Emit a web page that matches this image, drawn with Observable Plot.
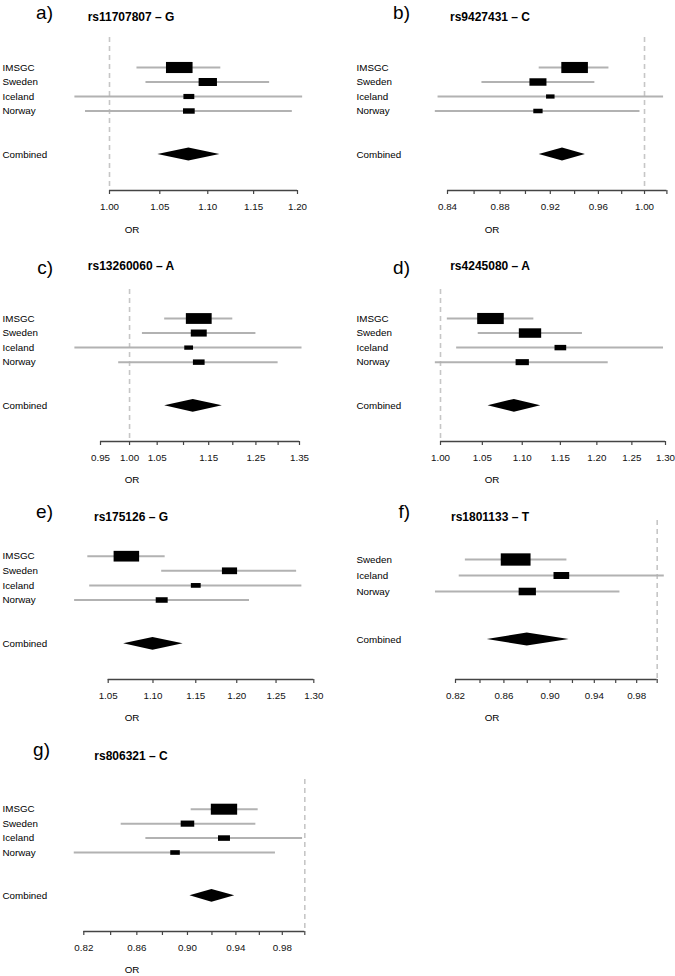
<!DOCTYPE html>
<html>
<head>
<meta charset="utf-8">
<script src="https://cdn.jsdelivr.net/npm/d3@7"></script>
<script src="https://cdn.jsdelivr.net/npm/@observablehq/plot@0.6"></script>
<style>
  body { margin: 0; background: #fff; }
  #page { position: relative; width: 675px; height: 976px; overflow: hidden;
          font-family: "Liberation Sans", Arial, Helvetica, sans-serif; color: #000; background: #fff; }
  .abs { position: absolute; line-height: 1; white-space: nowrap; }
  .letter { font-size: 19px; transform: translate(-100%, -50%); }
  .title { font-size: 12px; font-weight: bold; transform: translate(-50%, -50%); }
  .orlab { font-size: 9.8px; transform: translate(-50%, -50%); }
</style>
</head>
<body>
<div id="page"></div>
<script>
// ---------------- DATA ----------------
const letters = ["a)", "b)", "c)", "d)", "e)", "f)", "g)"];
const snps = ["rs11707807 – G", "rs9427431 – C", "rs13260060 – A", "rs4245080 – A",
              "rs175126 – G", "rs1801133 – T", "rs806321 – C"];
const studyNames = [
  ["IMSGC", "Sweden", "Iceland", "Norway"],
  ["IMSGC", "Sweden", "Iceland", "Norway"],
  ["IMSGC", "Sweden", "Iceland", "Norway"],
  ["IMSGC", "Sweden", "Iceland", "Norway"],
  ["IMSGC", "Sweden", "Iceland", "Norway"],
  ["Sweden", "Iceland", "Norway"],
  ["IMSGC", "Sweden", "Iceland", "Norway"]
];
const studyOR = [
  [1.070, 1.100, 1.080, 1.080],
  [0.940, 0.910, 0.920, 0.910],
  [1.130, 1.130, 1.110, 1.130],
  [1.060, 1.110, 1.150, 1.100],
  [1.070, 1.191, 1.150, 1.110],
  [0.870, 0.910, 0.880],
  [0.930, 0.900, 0.930, 0.890]
];
const studyLow = [
  [1.027, 1.036, 0.967, 0.977],
  [0.911, 0.866, 0.833, 0.831],
  [1.064, 1.023, 0.908, 0.981],
  [1.008, 1.045, 1.019, 0.994],
  [1.028, 1.110, 1.030, 1.014],
  [0.828, 0.823, 0.804],
  [0.903, 0.848, 0.867, 0.813]
];
const studyHigh = [
  [1.114, 1.168, 1.206, 1.194],
  [0.969, 0.957, 1.017, 0.996],
  [1.200, 1.250, 1.356, 1.300],
  [1.115, 1.180, 1.297, 1.216],
  [1.114, 1.277, 1.284, 1.216],
  [0.915, 1.007, 0.964],
  [0.959, 0.957, 0.998, 0.974]
];
// relative study weights (box sizes)
const studyWeight = [
  [1.00, 0.69, 0.41, 0.44],
  [1.00, 0.64, 0.32, 0.35],
  [0.97, 0.60, 0.33, 0.44],
  [1.00, 0.84, 0.44, 0.50],
  [0.96, 0.57, 0.37, 0.45],
  [1.12, 0.59, 0.65],
  [0.99, 0.51, 0.45, 0.36]
];
const combinedOR   = [1.080, 0.930, 1.119, 1.090, 1.100, 0.880, 0.920];
const combinedLow  = [1.048, 0.911, 1.064, 1.057, 1.067, 0.846, 0.902];
const combinedHigh = [1.113, 0.949, 1.178, 1.124, 1.135, 0.917, 0.939];
const axisTicks = [
  [1.00, 1.05, 1.10, 1.15, 1.20],
  [0.84, 0.86, 0.88, 0.90, 0.92, 0.94, 0.96, 0.98, 1.00, 1.02],
  [0.95, 1.00, 1.05, 1.10, 1.15, 1.20, 1.25, 1.30, 1.35],
  [1.00, 1.05, 1.10, 1.15, 1.20, 1.25, 1.30],
  [1.05, 1.10, 1.15, 1.20, 1.25, 1.30],
  [0.82, 0.84, 0.86, 0.88, 0.90, 0.92, 0.94, 0.96, 0.98, 1.00],
  [0.82, 0.84, 0.86, 0.88, 0.90, 0.92, 0.94, 0.96, 0.98, 1.00]
];
const axisLabels = [
  ["1.00", "1.05", "1.10", "1.15", "1.20"],
  ["0.84", "0.88", "0.92", "0.96", "1.00"],
  ["0.95", "1.00", "1.05", "1.15", "1.25", "1.35"],
  ["1.00", "1.05", "1.10", "1.15", "1.20", "1.25", "1.30"],
  ["1.05", "1.10", "1.15", "1.20", "1.25", "1.30"],
  ["0.82", "0.86", "0.90", "0.94", "0.98"],
  ["0.82", "0.86", "0.90", "0.94", "0.98"]
];
const combinedLabel = "Combined";
const axisTitle = "OR";

// ---------------- LAYOUT (page pixels) ----------------
const layout = [
  {left: 0,   top: 0,   w: 335, h: 240, x0px: 109,   x1px: 297,   row1: 67,    comb: 154,   axisY: 190, dashTop: 37,  labelX: 2,   titleX: 131, titleY: 16.7,  letterX: 53,  letterY: 11.8, orX: 132, orY: 230},
  {left: 335, top: 0,   w: 340, h: 240, x0px: 447,   x1px: 666.4, row1: 67,    comb: 154,   axisY: 190, dashTop: 37,  labelX: 356, titleX: 490, titleY: 16.7,  letterX: 410, letterY: 11.8, orX: 492, orY: 230},
  {left: 0,   top: 240, w: 335, h: 240, x0px: 100,   x1px: 299,   row1: 318,   comb: 405.3, axisY: 441, dashTop: 289, labelX: 2,   titleX: 131, titleY: 266,   letterX: 53,  letterY: 267,  orX: 132, orY: 480},
  {left: 335, top: 240, w: 340, h: 240, x0px: 440,   x1px: 665,   row1: 318,   comb: 405.3, axisY: 441, dashTop: 289, labelX: 356, titleX: 490, titleY: 266,   letterX: 410, letterY: 267,  orX: 492, orY: 480},
  {left: 0,   top: 480, w: 335, h: 250, x0px: 107.7, x1px: 313.3, row1: 555.7, comb: 643.3, axisY: 679, dashTop: 520, labelX: 2,   titleX: 131, titleY: 516.7, letterX: 53,  letterY: 511,  orX: 132, orY: 718},
  {left: 335, top: 480, w: 340, h: 250, x0px: 455,   x1px: 656.7, row1: 559,   comb: 639,   axisY: 679, dashTop: 520, labelX: 356, titleX: 490, titleY: 516.7, letterX: 410, letterY: 511,  orX: 492, orY: 718},
  {left: 0,   top: 730, w: 335, h: 246, x0px: 83.3,  x1px: 304.3, row1: 808.7, comb: 895.3, axisY: 931, dashTop: 779, labelX: 2,   titleX: 131, titleY: 756,   letterX: 50,  letterY: 749,  orX: 132, orY: 970}
];

// rectangular box symbol: half-width = r, half-height proportional
const boxSymbol = {
  draw(context, size) {
    const r = Math.sqrt(size / Math.PI);
    const hw = r, hh = 0.38 * r + 0.5;
    context.moveTo(-hw, -hh);
    context.lineTo(hw, -hh);
    context.lineTo(hw, hh);
    context.lineTo(-hw, hh);
    context.closePath();
  }
};

const page = document.getElementById("page");

function addText(cls, text, x, y) {
  const el = document.createElement("div");
  el.className = "abs " + cls;
  el.textContent = text;
  el.style.left = x + "px";
  el.style.top = y + "px";
  page.appendChild(el);
}

layout.forEach((L, i) => {
  const names = studyNames[i];
  const n = names.length;
  const rows = names.map((s, j) => ({
    study: s, idx: j + 1,
    or: studyOR[i][j], lo: studyLow[i][j], hi: studyHigh[i][j], w: studyWeight[i][j]
  }));
  const combIdx = n + 3;
  const spacing = (L.comb - L.row1) / (combIdx - 1);
  const axisRow = combIdx + (L.axisY - L.comb) / spacing;
  const ticks = axisTicks[i];
  const t0 = ticks[0], t1 = ticks[ticks.length - 1];
  const marginTop = L.dashTop - L.top;
  const marginBottom = L.top + L.h - L.axisY;
  const marginLeft = L.x0px - L.left;
  const marginRight = L.left + L.w - L.x1px;
  const dh = 6.4 / spacing;
  const diamond = [
    {x: combinedLow[i], y1: combIdx, y2: combIdx},
    {x: combinedOR[i], y1: combIdx - dh, y2: combIdx + dh},
    {x: combinedHigh[i], y1: combIdx, y2: combIdx}
  ];
  const labels = rows.map(d => ({name: d.study, idx: d.idx}))
    .concat([{name: combinedLabel, idx: combIdx}]);
  const axisBar = [{x1: t0, x2: t1, y: axisRow}];

  const marks = [];
  if (t0 <= 1 && 1 <= t1) {
    marks.push(Plot.ruleX([1], {stroke: "#c6c6c6", strokeWidth: 1.6, strokeDasharray: "5,4"}));
  }
  marks.push(
    Plot.ruleY(rows, {x1: "lo", x2: "hi", y: "idx", stroke: "#b2b2b2", strokeWidth: 2}),
    Plot.dot(rows, {x: "or", y: "idx", r: "w", symbol: boxSymbol, fill: "#000", stroke: "none"}),
    Plot.areaY(diamond, {x: "x", y1: "y1", y2: "y2", fill: "#000"}),
    Plot.text(labels, {y: "idx", text: "name", frameAnchor: "left", textAnchor: "start",
      dx: L.labelX - L.left - marginLeft, fontSize: 9.8, fill: "#000"}),
    Plot.axisX({ticks: ticks, tickSize: 4, tickPadding: 8.5, stroke: "#444", strokeWidth: 1.2, fill: "#111",
      fontSize: 9.8, label: null,
      tickFormat: d => { const s = d.toFixed(2); return axisLabels[i].includes(s) ? s : ""; }}),
    Plot.ruleY(axisBar, {x1: "x1", x2: "x2", y: "y", stroke: "#444", strokeWidth: 1.5})
  );

  const svg = Plot.plot({
    width: L.w,
    height: L.h,
    marginTop, marginBottom, marginLeft, marginRight,
    x: {type: "log", domain: [t0, t1], range: [L.x0px - L.left, L.x1px - L.left]},
    y: {type: "linear", domain: [1, combIdx], range: [L.row1 - L.top, L.comb - L.top], axis: null},
    r: {type: "linear", domain: [0, 1], range: [0, 13.3]},
    style: {fontFamily: "Liberation Sans, Arial, Helvetica, sans-serif", fontSize: "9.8px",
            background: "transparent", overflow: "visible", color: "#111"},
    marks
  });
  svg.style.position = "absolute";
  svg.style.left = L.left + "px";
  svg.style.top = L.top + "px";
  svg.style.maxWidth = "none";
  page.appendChild(svg);

  addText("letter", letters[i], L.letterX, L.letterY);
  addText("title", snps[i], L.titleX, L.titleY);
  addText("orlab", axisTitle, L.orX, L.orY);
});
</script>
</body>
</html>
